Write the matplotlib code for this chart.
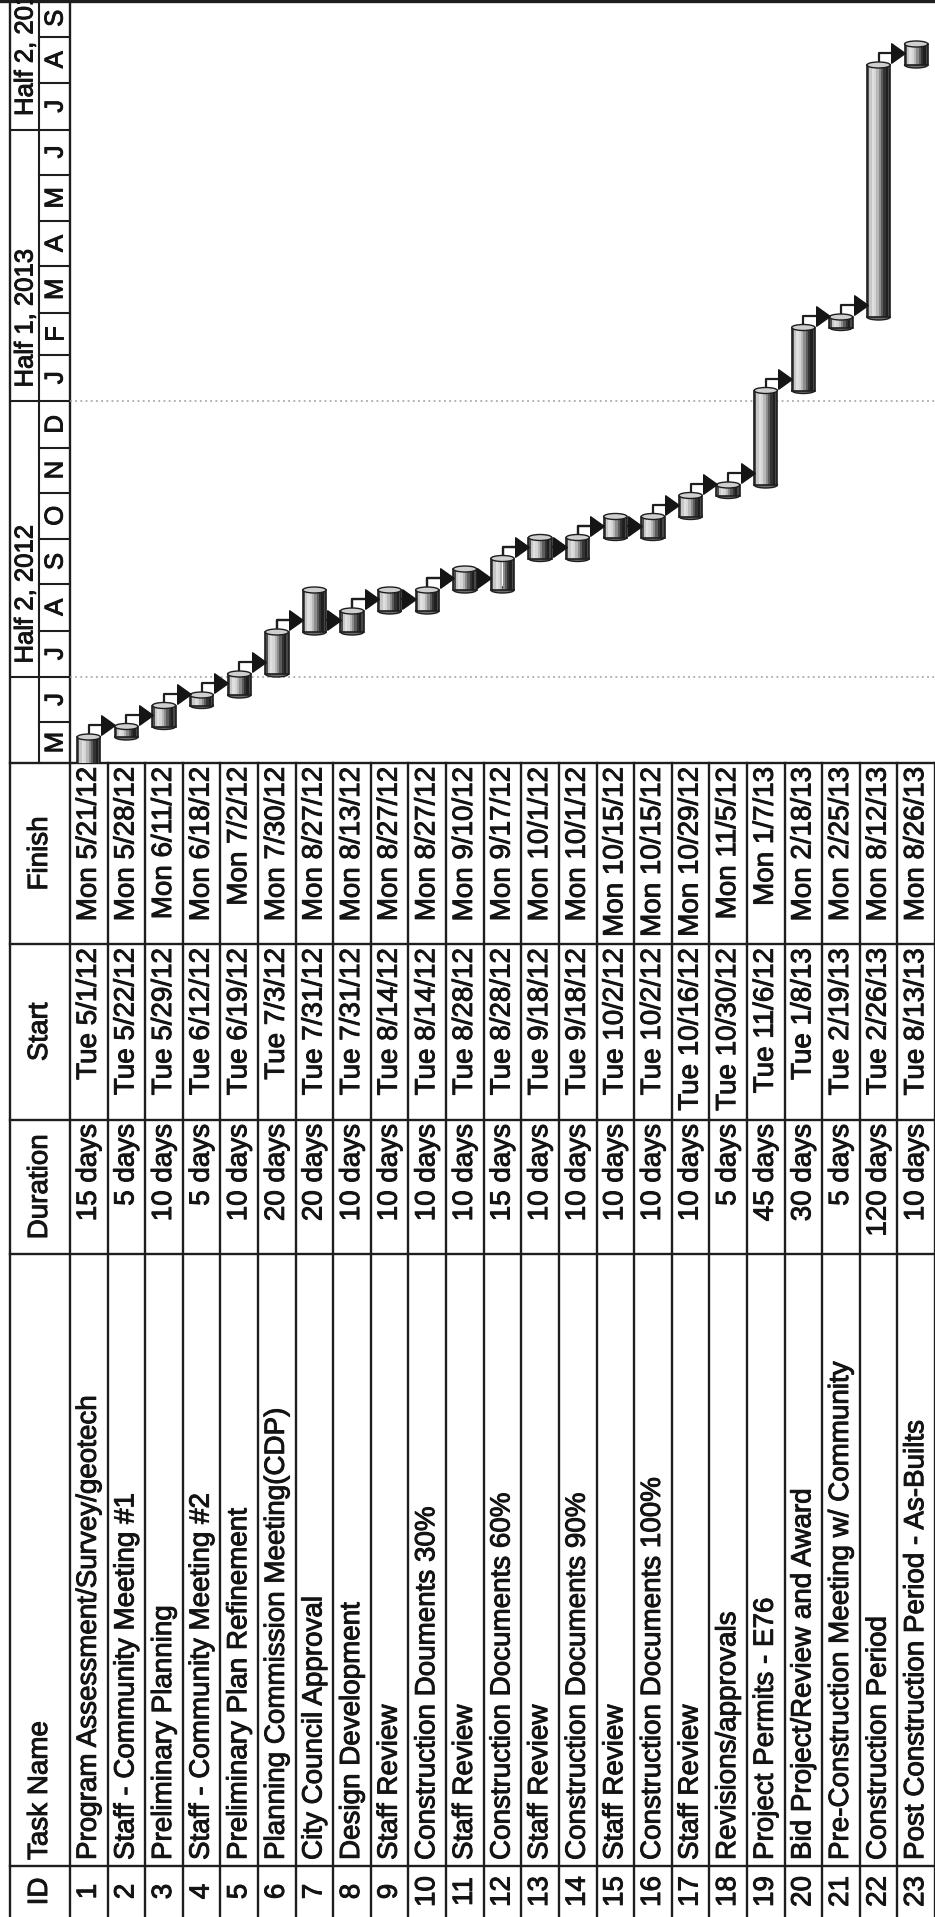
import matplotlib
matplotlib.use("Agg")
import matplotlib.pyplot as plt
import matplotlib.dates as mdates
import matplotlib.patheffects as pe
from matplotlib.patches import Ellipse
from matplotlib.path import Path
import datetime as dt

# ---------------- data ----------------
ids = list(range(1, 24))
task_names = [
    "Program Assessment/Survey/geotech",
    "Staff - Community Meeting #1",
    "Preliminary Planning",
    "Staff - Community Meeting #2",
    "Preliminary Plan Refinement",
    "Planning Commission Meeting(CDP)",
    "City Council Approval",
    "Design Development",
    "Staff Review",
    "Construction Douments 30%",
    "Staff Review",
    "Construction Documents 60%",
    "Staff Review",
    "Construction Documents 90%",
    "Staff Review",
    "Construction Documents 100%",
    "Staff Review",
    "Revisions/approvals",
    "Project Permits - E76",
    "Bid Project/Review and Award",
    "Pre-Construction Meeting w/ Community",
    "Construction Period",
    "Post Construction Period - As-Builts",
]
durations = ["15 days", "5 days", "10 days", "5 days", "10 days", "20 days",
             "20 days", "10 days", "10 days", "10 days", "10 days", "15 days",
             "10 days", "10 days", "10 days", "10 days", "10 days", "5 days",
             "45 days", "30 days", "5 days", "120 days", "10 days"]
starts = ["Tue 5/1/12", "Tue 5/22/12", "Tue 5/29/12", "Tue 6/12/12", "Tue 6/19/12",
          "Tue 7/3/12", "Tue 7/31/12", "Tue 7/31/12", "Tue 8/14/12", "Tue 8/14/12",
          "Tue 8/28/12", "Tue 8/28/12", "Tue 9/18/12", "Tue 9/18/12", "Tue 10/2/12",
          "Tue 10/2/12", "Tue 10/16/12", "Tue 10/30/12", "Tue 11/6/12", "Tue 1/8/13",
          "Tue 2/19/13", "Tue 2/26/13", "Tue 8/13/13"]
finishes = ["Mon 5/21/12", "Mon 5/28/12", "Mon 6/11/12", "Mon 6/18/12", "Mon 7/2/12",
            "Mon 7/30/12", "Mon 8/27/12", "Mon 8/13/12", "Mon 8/27/12", "Mon 8/27/12",
            "Mon 9/10/12", "Mon 9/17/12", "Mon 10/1/12", "Mon 10/1/12", "Mon 10/15/12",
            "Mon 10/15/12", "Mon 10/29/12", "Mon 11/5/12", "Mon 1/7/13", "Mon 2/18/13",
            "Mon 2/25/13", "Mon 8/12/13", "Mon 8/26/13"]
predecessors = [None, 1, 2, 3, 4, 5, 6, 6, 8, 8, 10, 10, 12, 12, 14, 14, 16, 17,
                18, 19, 20, 21, 22]
header_labels = ["ID", "Task Name", "Duration", "Start", "Finish"]
timescale_range = ("2012-05-04 16:00", "2013-09-25 08:00")
gridline_dates = ["2012-07-01", "2013-01-01"]


def parse(s):
    return dt.datetime.strptime(s.split()[1], "%m/%d/%y")


# ---------------- layout ----------------
W, H = 935, 1917
FONT = "Liberation Sans"
FS = 20
FS_HDR = 20
FS_TS = 18.5
TXT = "#141414"
LINE = "#1e1e1e"
THICK = [pe.withStroke(linewidth=0.7, foreground=TXT)]

fig = plt.figure(figsize=(W / 100, H / 100), dpi=100)
fig.patch.set_facecolor("white")

tab = fig.add_axes([0, 0, 1, 1])
tab.set_xlim(0, W)
tab.set_ylim(H, 0)
tab.axis("off")

LEFT = 10
HALF_DIV = 39
ROW0 = 70
PITCH = (W - ROW0) / 23
GB = 763  # gantt bottom
col_finish, col_start, col_dur, col_task, col_id = 763, 944, 1120, 1254, 1866

# table grid
for k in range(24):
    x = ROW0 + k * PITCH
    tab.plot([x, x], [0 if k == 0 else GB, H], color=LINE, lw=1.7, zorder=2)
tab.plot([LEFT, LEFT], [0, H], color=LINE, lw=1.7)
for y in [col_finish, col_start, col_dur, col_task, col_id]:
    tab.plot([LEFT, W], [y, y], color=LINE, lw=1.7)
tab.plot([0, W], [1.5, 1.5], color=LINE, lw=2.4)
tab.plot([HALF_DIV, HALF_DIV], [0, GB], color=LINE, lw=1.5)

# header texts (rotated)
hx = (LEFT + ROW0) / 2
kwh = dict(rotation=90, fontsize=FS_HDR, family=FONT, color=TXT, ha="center",
           path_effects=THICK)
tab.text(hx, (col_id + H) / 2, header_labels[0], va="center", **kwh)
tab.text(hx, col_id - 6, header_labels[1], va="bottom", **kwh)
tab.text(hx, (col_dur + col_task) / 2, header_labels[2], va="center", **kwh)
tab.text(hx, (col_start + col_dur) / 2, header_labels[3], va="center", **kwh)
tab.text(hx, (col_finish + col_start) / 2, header_labels[4], va="center", **kwh)

kw = dict(rotation=90, fontsize=FS, family=FONT, color=TXT, ha="center",
          path_effects=THICK)
for i in range(23):
    xc = ROW0 + (i + 0.5) * PITCH
    tab.text(xc, (col_id + H) / 2, str(ids[i]), va="center", **kw)
    tab.text(xc, col_id - 6, task_names[i], va="bottom", **kw)
    tab.text(xc, col_dur + 4, durations[i], va="top", **kw)
    tab.text(xc, col_start + 4, starts[i], va="top", **kw)
    tab.text(xc, col_finish + 4, finishes[i], va="top", **kw)

# ---------------- gantt ----------------
d0 = dt.datetime.fromisoformat(timescale_range[0])
d1 = dt.datetime.fromisoformat(timescale_range[1])
t0 = mdates.date2num(d0)
t1 = mdates.date2num(d1)

gantt = fig.add_axes([ROW0 / W, 1 - GB / H, 1 - ROW0 / W, GB / H])
gantt.set_xlim(0.5, 23.5)
gantt.set_ylim(t0, t1)
gantt.axis("off")
gantt.patch.set_alpha(0)

for g in gridline_dates:
    gantt.axhline(mdates.date2num(dt.datetime.fromisoformat(g)), color="#9c9c9c",
                  ls=(0, (1.2, 2.2)), lw=1.1, zorder=1)

s_num = [mdates.date2num(parse(s)) for s in starts]
e_num = [mdates.date2num(parse(f)) + 1 for f in finishes]

BW = 0.62
shades = [0.30, 0.78, 0.88, 0.84, 0.72, 0.55, 0.36, 0.20, 0.12, 0.28]
n = len(shades)
sw = BW / n
CAP = 4.0  # days

# links
tri = Path([(-0.7, -1), (0.7, 0), (-0.7, 1), (-0.7, -1)],
           [Path.MOVETO, Path.LINETO, Path.LINETO, Path.CLOSEPOLY])
RISE = 8.0
for i, p in enumerate(predecessors):
    if p is None:
        continue
    xp = p
    xs = i + 1
    y0 = e_num[p - 1]
    y1 = y0 + RISE
    xa = xs - BW / 2 - 0.17
    gantt.plot([xp, xp, xa], [y0, y1, y1], color=LINE, lw=1.6, zorder=2,
               solid_joinstyle="round")
    gantt.plot([xa], [y1], marker=tri, markersize=14, color="#151515", zorder=8,
               linestyle="none")

for i in range(23):
    x = i + 1
    h = e_num[i] - s_num[i]
    gantt.add_patch(Ellipse((x, s_num[i]), BW, CAP, facecolor="#6e6e6e",
                            edgecolor=LINE, lw=1.0, zorder=3))
    for j, sh in enumerate(shades):
        gantt.bar(x - BW / 2 + (j + 0.5) * sw, h, bottom=s_num[i], width=sw,
                  color=str(sh), linewidth=0, zorder=4)
    gantt.bar(x, h, bottom=s_num[i], width=BW, fill=False, edgecolor=LINE,
              linewidth=1.2, zorder=5)
    gantt.add_patch(Ellipse((x, e_num[i]), BW, CAP, facecolor="#cfcfcf",
                            edgecolor=LINE, lw=1.0, zorder=6))

# ---------------- timescale header ----------------
hdr = fig.add_axes([LEFT / W, 1 - GB / H, (ROW0 - LEFT) / W, GB / H])
hdr.set_xlim(LEFT, ROW0)
hdr.set_ylim(t0, t1)
hdr.axis("off")
hdr.patch.set_alpha(0)

mloc = mdates.MonthLocator()
mticks = list(mloc.tick_values(d0 - dt.timedelta(days=40), d1 + dt.timedelta(days=40)))
for m in mticks:
    if t0 < m < t1:
        hdr.plot([HALF_DIV, ROW0], [m, m], color=LINE, lw=1.5)
for a, b in zip(mticks[:-1], mticks[1:]):
    lo, hi = max(a, t0), min(b, t1)
    if hi - lo > 8:
        letter = mdates.num2date(a).strftime("%b")[0]
        hdr.text((HALF_DIV + ROW0) / 2 + 1, (lo + hi) / 2, letter, rotation=90,
                 ha="center", va="center", fontsize=FS_TS, family=FONT, color=TXT,
                 path_effects=THICK)

hloc = mdates.MonthLocator(bymonth=[1, 7])
for hstart in hloc.tick_values(d0 - dt.timedelta(days=200), d1 + dt.timedelta(days=10)):
    if hstart <= t0:
        continue
    d = mdates.num2date(hstart)
    hdr.plot([LEFT, HALF_DIV], [hstart, hstart], color=LINE, lw=1.5)
    label = f"Half {1 if d.month == 1 else 2}, {d.year}"
    hdr.text((LEFT + HALF_DIV) / 2 + 1, hstart + 9, label, rotation=90,
             ha="center", va="bottom", fontsize=FS_TS, family=FONT, color=TXT,
             clip_on=True, path_effects=THICK)

fig.savefig("out.png", dpi=100, facecolor="white")
